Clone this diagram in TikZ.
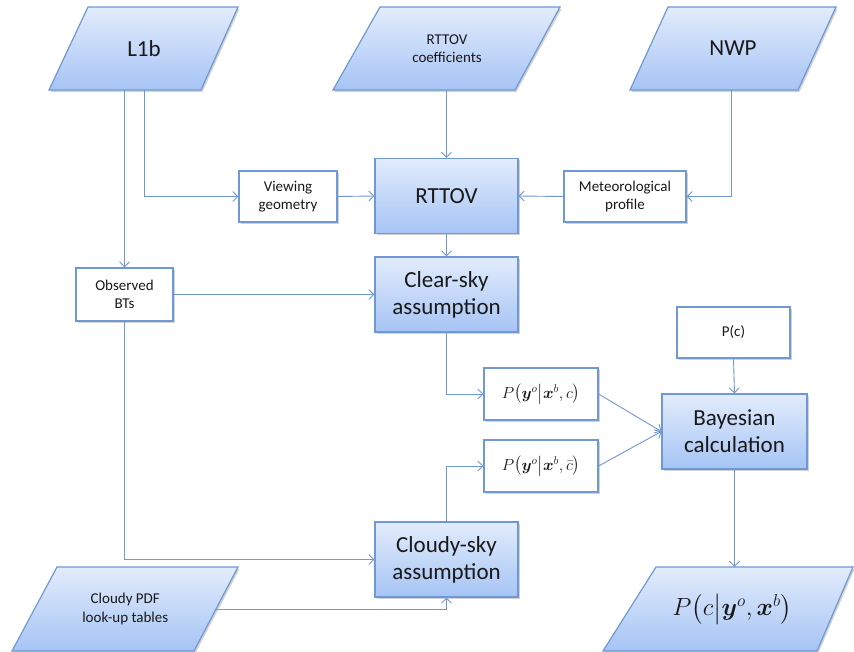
\documentclass[tikz,border=0pt]{standalone}
\usepackage{graphicx}
\usepackage{amsmath,bm}
\usepackage{fontspec}
\setmainfont{Carlito}
\usetikzlibrary{arrows.meta,shadows}
\definecolor{bline}{RGB}{112,152,212}
\definecolor{btop}{RGB}{226,236,252}
\definecolor{bbot}{RGB}{166,196,245}
\definecolor{txt}{RGB}{25,25,25}
\tikzset{
  shd/.style={drop shadow={shadow xshift=1.5pt,shadow yshift=-2pt,opacity=.25,fill=black!70}},
  bigbox/.style={draw=bline,line width=1.2pt,top color=btop,bottom color=bbot,shd,
     align=center,inner sep=0pt,text=txt,font=\fontsize{23}{27}\selectfont,
     minimum width=143pt,minimum height=75pt},
  smallbox/.style={draw=bline,line width=1.2pt,fill=white,shd,align=center,inner sep=0pt,
     text=txt,font=\fontsize{15}{18.5}\selectfont},
  pshape/.style={draw=bline,line width=1.2pt,top color=btop,bottom color=bbot,shd,line join=miter},
  ptext/.style={inner sep=0pt,align=center,text=txt},
  conn/.style={draw=bline,line width=0.9pt,-{Straight Barb[length=5pt,width=10pt,line width=0.9pt]}},
}
\newcommand\pgram[9]{%
  \draw[pshape] (#2,#6) -- (#3,#6) -- (#5,#7) -- (#4,#7) -- cycle;
  \pgfmathsetmacro\pcx{(#2+#3+#4+#5)/4}%
  \pgfmathsetmacro\pcy{(#6+#7)/2}%
  \pgfmathsetmacro\ph{#7-#6}%
  \node[ptext,font=#9,minimum height=\ph pt] (#1) at (\pcx,\pcy) {#8};%
}
\begin{document}
\begin{tikzpicture}[x=1pt,y=-1pt]
\useasboundingbox[fill=white] (0,0) rectangle (854,652);

% parallelograms
\pgram{l1b}{88}{238}{49}{201}{7}{90}{L1b}{\fontsize{23}{27}\selectfont}
\pgram{coef}{380}{560}{333}{515}{7}{90}{RTTOV\\coefficients}{\fontsize{15}{18}\selectfont}
\pgram{nwp}{668}{836}{630}{798}{7}{90}{NWP}{\fontsize{23}{27}\selectfont}
\pgram{pdf}{57}{238}{12}{194}{567}{651}{Cloudy PDF\\look-up tables}{\fontsize{15}{19}\selectfont}
\pgram{out}{656}{853}{603}{817}{567}{651}{$P\mathopen{}\left(c\middle|\bm{y}^{o},\bm{x}^{b}\right)$}{\fontsize{23}{27}\selectfont}

% boxes
\node[smallbox,minimum width=98pt,minimum height=51pt] (view) at (288,196.5) {Viewing\\geometry};
\node[bigbox] (rttov) at (446.5,196) {RTTOV};
\node[smallbox,minimum width=122pt,minimum height=51pt] (met) at (625,196.5) {Meteorological\\profile};
\node[smallbox,minimum width=97pt,minimum height=53pt] (obs) at (124.5,294.5) {Observed\\BTs};
\node[bigbox] (clear) at (446.5,294.5) {Clear-sky\\assumption};
\node[smallbox,minimum width=114pt,minimum height=52pt,font=\fontsize{14}{17}\selectfont] (f1) at (541,394)
  {\scalebox{1.12}{$P\mathopen{}\left(\bm{y}^{o}\middle|\bm{x}^{b},c\right)$}};
\node[smallbox,minimum width=114pt,minimum height=52pt,font=\fontsize{14}{17}\selectfont] (f2) at (541,466)
  {\scalebox{1.12}{$P\mathopen{}\left(\bm{y}^{o}\middle|\bm{x}^{b},\bar{c}\right)$}};
\node[smallbox,minimum width=113pt,minimum height=51pt] (pc) at (733.5,332.5) {P(c)};
\node[bigbox,minimum width=145pt] (bayes) at (734.5,431.5) {Bayesian\\calculation};
\node[bigbox] (cloudy) at (446.5,559.5) {Cloudy-sky\\assumption};

\coordinate (pdfR) at (216,609);

% connectors
\draw[conn] (l1b.south) |- (view.west);
\draw[conn] (l1b.south -| obs.north) -- (obs.north);
\draw[conn] (coef.south -| rttov.north) -- (rttov.north);
\draw[conn] ([xshift=-2pt]nwp.south) |- (met.east);
\draw[conn] (view.east) -- (rttov.west);
\draw[conn] (met.west) -- (rttov.east);
\draw[conn] (rttov.south) -- (clear.north);
\draw[conn] (obs.east) -- (clear.west);
\draw[conn] (clear.south) |- (f1.west);
\draw[conn] (obs.south) |- (cloudy.west);
\draw[conn] (cloudy.north) |- (f2.west);
\draw[conn] (pdfR) -| (cloudy.south);
\draw[conn] (f1.east) -- (bayes.west);
\draw[conn] (f2.east) -- (bayes.west);
\draw[conn] (pc.south) -- (bayes.north);
\draw[conn] (bayes.south) -- (bayes.south |- out.north);
\end{tikzpicture}
\end{document}
